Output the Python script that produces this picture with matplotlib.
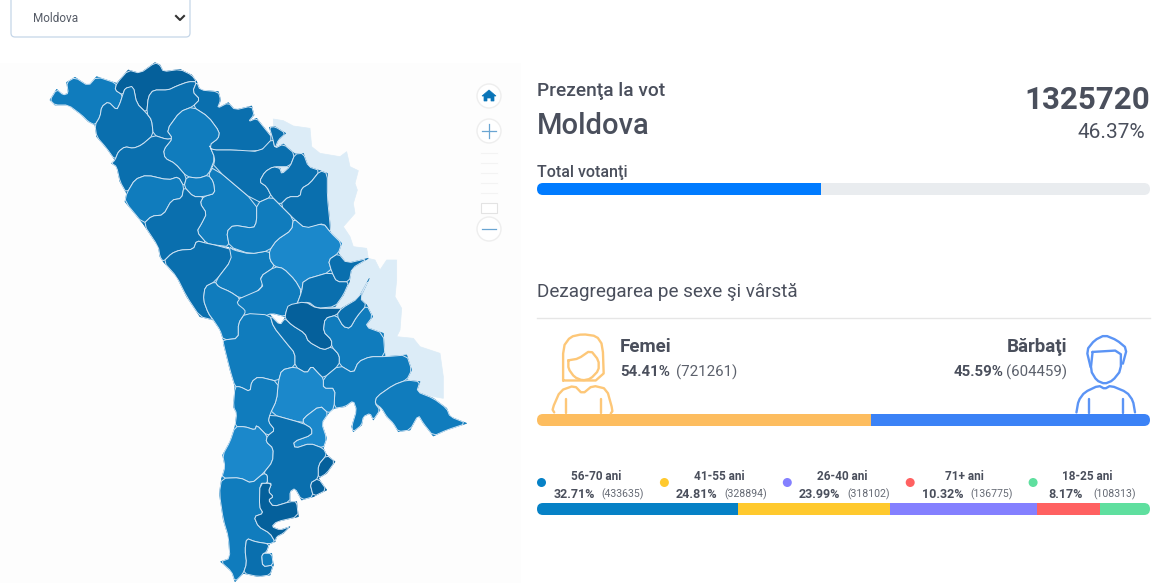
import matplotlib
matplotlib.use("Agg")
import matplotlib.pyplot as plt
import numpy as np
from matplotlib.patches import Circle, FancyBboxPatch, Polygon, Rectangle

plt.rcParams["font.family"] = ["Roboto", "Noto Sans", "DejaVu Sans"]

# Headline numbers
TOTAL_VOTES = "1325720"
TURNOUT_PCT = 46.37

# Sex split
sex_labels = ["Femei", "Bărbaţi"]
sex_pct = [54.41, 45.59]
sex_counts = [721261, 604459]
sex_colors = ["#fdbd5f", "#3b82f6"]

# Age groups
age_labels = ["56-70 ani", "41-55 ani", "26-40 ani", "71+ ani", "18-25 ani"]
age_pct = [32.71, 24.81, 23.99, 10.32, 8.17]
age_counts = [433635, 328894, 318102, 136775, 108313]
age_colors = ["#0681c6", "#ffc92e", "#8480ff", "#ff6161", "#5fdf9f"]

# Map shades
DARK = "#05609b"
MID = "#0a6fae"
LIGHT = "#107cbd"
PALE = "#1b88cb"
TRANS = "#dcecf7"

# Map outlines. Each block has its own crop origin.
NORTH = [
    (LIGHT, [(150,150),(170,118),(190,135),(205,130),(200,97),(225,82),(265,108),(290,80),(350,100),(345,120),(368,135),(360,160),(350,180),(325,155),(305,170),(300,200),(285,225),(265,215),(245,195),(205,165),(165,165)]),
    (DARK, [(350,100),(385,60),(420,70),(465,38),(480,45),(490,65),(540,58),(575,75),(590,95),(565,95),(530,108),(505,120),(460,120),(445,140),(440,190),(410,160),(400,110),(375,115),(368,135),(345,120)]),
    (MID, [(368,135),(375,115),(400,108),(410,160),(440,190),(455,210),(460,255),(425,285),(400,295),(375,290),(355,305),(345,330),(320,295),(290,260),(285,225),(300,200),(305,170),(325,155),(350,180),(360,160)]),
    (MID, [(440,190),(445,140),(460,120),(505,120),(530,108),(565,95),(590,95),(578,125),(600,148),(578,170),(540,185),(500,240),(518,265),(500,268),(460,255),(455,210)]),
    (MID, [(590,95),(600,120),(655,125),(662,150),(652,175),(685,158),(705,180),(755,168),(762,195),(745,215),(770,205),(790,230),(818,265),(790,300),(735,305),(705,300),(635,300),(628,285),(655,265),(658,245),(625,200),(578,170),(600,148),(578,125)]),
    (LIGHT, [(578,170),(625,200),(658,245),(655,265),(628,285),(645,325),(625,375),(595,385),(560,380),(525,340),(495,325),(490,300),(518,265),(500,240),(540,185)]),
    (MID, [(460,255),(500,268),(518,265),(490,300),(495,325),(525,340),(560,380),(552,410),(535,380),(505,390),(440,375),(405,388),(380,430),(360,395),(350,350),(335,340),(345,330),(355,305),(375,290),(400,295),(425,285)]),
    (LIGHT, [(405,388),(440,375),(505,390),(535,380),(552,410),(545,445),(515,450),(490,495),(455,498),(430,522),(375,455),(380,430)]),
    (LIGHT, [(625,375),(640,350),(770,460),(770,515),(760,535),(700,525),(680,545),(688,590),(645,585),(620,580),(590,545),(605,520),(620,490),(600,460),(610,440),(645,430),(640,395)]),
    (LIGHT, [(552,410),(560,380),(595,385),(625,375),(640,395),(645,430),(610,440),(580,440)]),
    (MID, [(552,410),(580,440),(610,440),(600,460),(620,490),(605,520),(590,545),(620,580),(590,572),(580,598),(540,600),(515,610),(490,635),(480,620),(475,590),(430,522),(455,498),(490,495),(515,450),(545,445)]),
    (MID, [(490,635),(515,610),(540,600),(580,598),(590,572),(620,580),(645,585),(700,600),(695,630),(645,695),(615,710),(610,750),(625,790),(640,810),(600,800),(560,740),(530,680)]),
    (LIGHT, [(688,590),(700,600),(750,612),(808,602),(810,630),(825,650),(780,680),(790,705),(760,735),(720,745),(690,725),(655,710),(645,695),(695,630)]),
]
EAST = [
    (TRANS, [(100,207),(130,212),(160,228),(210,235),(215,290),(240,310),(300,320),(320,305),(330,350),(355,362),(345,400),(352,420),(340,460),(345,490),(310,530),(330,560),(340,590),(380,595),(385,625),(405,630),(420,660),(440,630),(470,630),(470,690),(465,740),(485,775),(480,840),(470,860),(520,865),(540,890),(600,910),(610,980),(610,1045),(555,1035),(360,900),(280,800),(100,300)]),
    (MID, [(-85,300),(-15,300),(60,305),(98,265),(105,295),(130,282),(165,312),(150,350),(100,350),(75,365),(58,395),(80,410),(95,440),(50,460),(-80,350),(-75,325),(-92,285)]),
    (MID, [(98,265),(88,232),(105,230),(137,250),(115,270),(105,295)]),
    (MID, [(75,365),(100,350),(120,355),(125,372),(150,350),(165,312),(190,310),(205,350),(240,362),(210,400),(185,415),(180,440),(145,440),(120,465),(95,440),(80,410),(58,395)]),
    (MID, [(240,362),(262,370),(262,440),(270,520),(272,548),(250,520),(220,530),(195,535),(160,505),(120,465),(145,440),(180,440),(185,415),(210,400)]),
    (PALE, [(160,505),(195,535),(250,520),(272,548),(305,580),(295,610),(265,630),(275,665),(190,690),(185,725),(165,690),(130,655),(105,650),(90,630),(88,602),(110,570),(155,540)]),
    (LIGHT, [(50,460),(95,440),(120,465),(160,505),(155,540),(110,570),(88,602),(30,612),(-32,590),(-40,545),(-20,525),(40,535),(50,515)]),
    (LIGHT, [(105,650),(130,655),(165,690),(185,725),(170,765),(140,780),(135,800),(95,790),(70,800),(0,795),(-10,750),(0,745),(70,715),(60,680)]),
    (MID, [(190,690),(275,665),(290,695),(328,695),(310,735),(285,770),(230,775),(205,755),(170,765),(185,725)]),
    (MID, [(265,630),(295,610),(320,640),(385,625),(335,655),(328,695),(290,695),(275,665)]),
]
SOUTH = [
    (LIGHT, [(75,-70),(105,-85),(115,-70),(150,-55),(180,-35),(170,-20),(195,0),(195,10),(175,40),(175,85),(130,90),(120,60),(100,30),(85,10),(70,-30)]),
    (LIGHT, [(195,10),(270,15),(280,50),(320,100),(345,130),(345,170),(305,180),(295,215),(235,200),(215,215),(210,245),(180,230),(165,230),(150,180),(130,100),(130,90),(175,85),(175,40)]),
    (MID, [(270,15),(300,45),(315,25),(335,45),(375,70),(385,95),(430,120),(455,110),(478,135),(478,165),(430,205),(415,190),(395,168),(380,190),(345,170),(345,130),(320,100),(280,50)]),
    (DARK, [(315,25),(318,5),(325,-15),(375,-25),(410,-5),(465,-5),(485,-5),(470,15),(435,25),(430,65),(455,90),(455,110),(430,120),(385,95),(375,70),(335,45)]),
    (LIGHT, [(430,65),(435,25),(470,15),(490,50),(510,55),(530,20),(560,-15),(578,20),(555,50),(610,70),(615,140),(570,140),(535,155),(520,190),(478,165),(478,135),(455,110),(455,90)]),
    (MID, [(470,15),(485,-5),(535,-35),(568,-95),(540,-35),(560,-15),(530,20),(510,55),(490,50)]),
    (LIGHT, [(430,205),(478,165),(520,190),(535,155),(570,140),(615,140),(680,135),(695,180),(680,210),(640,225),(590,260),(585,280),(600,300),(580,330),(570,310),(550,320),(545,345),(520,365),(515,350),(530,300),(520,272),(495,290),(462,295),(465,235),(430,235)]),
    (LIGHT, [(585,280),(590,260),(640,225),(680,210),(720,215),(710,245),(760,265),(800,295),(810,320),(860,340),(800,360),(760,378),(730,340),(715,315),(690,360),(655,365),(640,340),(620,320),(605,295)]),
    (PALE, [(295,215),(305,180),(345,170),(380,190),(395,168),(415,190),(430,205),(430,235),(465,235),(462,295),(445,310),(420,287),(370,325),(370,340),(270,312),(290,270)]),
    (PALE, [(370,325),(420,287),(445,310),(425,340),(440,385),(430,415),(390,400),(345,415),(340,395),(395,375),(395,355),(370,340)]),
    (LIGHT, [(165,230),(180,230),(210,245),(215,215),(235,200),(295,215),(290,270),(270,312),(265,335),(285,360),(262,378),(230,345),(225,360),(195,350),(165,350),(170,310),(160,290)]),
    (PALE, [(165,350),(195,350),(225,360),(230,345),(262,378),(258,395),(280,415),(278,455),(250,490),(215,520),(180,503),(125,505),(135,470),(128,435),(150,395)]),
    (MID, [(270,312),(370,340),(395,355),(395,375),(340,395),(345,415),(390,400),(430,415),(440,435),(415,465),(415,505),(390,520),(400,560),(365,570),(345,535),(330,545),(330,575),(280,590),(265,570),(280,560),(265,545),(275,520),(262,520),(262,495),(250,490),(278,455),(280,415),(258,395),(262,378),(285,360),(265,335)]),
    (DARK, [(440,435),(465,455),(440,490),(415,505),(415,465)]),
    (DARK, [(390,520),(415,505),(440,540),(400,560)]),
    (LIGHT, [(125,505),(180,503),(215,520),(250,490),(262,495),(262,520),(240,520),(238,590),(250,610),(222,620),(235,650),(270,670),(285,695),(268,702),(225,695),(200,685),(195,720),(200,760),(190,790),(165,815),(155,785),(122,755),(150,745),(145,680),(130,630),(118,550)]),
    (DARK, [(240,520),(275,520),(265,545),(280,560),(265,570),(280,590),(330,575),(350,575),(355,620),(290,635),(275,650),(300,660),(330,650),(310,670),(290,680),(285,695),(270,670),(235,650),(222,620),(250,610),(238,590)]),
    (MID, [(200,685),(225,695),(268,702),(260,725),(245,735),(248,770),(280,765),(270,795),(235,800),(190,790),(200,760),(195,720)]),
    (LIGHT, [(245,730),(275,730),(280,765),(248,770)]),
]

# Icon outlines, in the same crop space as the lower panel zoom
WOMAN = [
    [(82,180),(82,80),(100,50),(130,42),(165,48),(180,75),(183,180),(82,180)],
    [(95,120),(120,115),(150,90),(170,120),(170,150),(150,175),(130,180),(110,170),(95,145),(95,120)],
    [(60,275),(55,265),(75,210),(110,195),(130,220),(155,195),(190,205),(205,270),(200,278)],
    [(88,235),(88,278)],
    [(175,235),(175,278)],
]
MAN = [
    [(1388,140),(1378,90),(1398,60),(1423,45),(1453,60),(1478,85),(1468,130)],
    [(1393,95),(1463,90),(1463,150),(1443,180),(1423,190),(1403,180),(1388,150),(1393,95)],
    [(1353,275),(1358,240),(1373,215),(1408,195),(1423,205),(1438,195),(1478,215),(1493,240),(1498,275)],
    [(1383,235),(1383,278)],
    [(1468,235),(1468,278)],
]

TEXT = "#4a4f5c"
BAR_X = 537
BAR_W = 613


def smooth(pts, closed=True, cut=0.2):
    # one pass of corner cutting so the traced outlines look less faceted
    pts = np.asarray(pts, dtype=float)
    if closed:
        nxt = np.roll(pts, -1, axis=0)
        return np.column_stack([(1 - cut) * pts + cut * nxt, cut * pts + (1 - cut) * nxt]).reshape(-1, 2)
    a, b = pts[:-1], pts[1:]
    mid = np.column_stack([(1 - cut) * a + cut * b, cut * a + (1 - cut) * b]).reshape(-1, 2)
    return np.vstack([pts[0], mid, pts[-1]])


def draw_regions(regions, x0, y0):
    for color, pts in regions:
        xy = smooth(pts) / 3 + [x0, y0]
        ax.add_patch(Polygon(xy, closed=True, fc=color, ec="#cfe3f3", lw=0.7, joinstyle="round"))


def draw_underlay(regions, x0, y0):
    # raw outlines underneath, fills the slivers left by the smoothing
    for color, pts in regions:
        ax.add_patch(Polygon(np.asarray(pts, float) / 3 + [x0, y0], closed=True, fc=color, ec=color, lw=0.5))


def stacked_bar(y, height, pct, colors):
    clip = FancyBboxPatch((BAR_X + 6, y + 6), BAR_W - 12, height - 12,
                          boxstyle="round,pad=6", transform=ax.transData, fc="none", ec="none")
    ax.add_patch(clip)
    lefts = BAR_X + np.cumsum([0] + list(pct[:-1])) / 100 * BAR_W
    widths = np.array(pct) / 100 * BAR_W
    bars = ax.barh([y + height / 2] * len(pct), widths, height=height, left=lefts, color=colors)
    for b in bars:
        b.set_clip_path(clip)


fig = plt.figure(figsize=(11.57, 5.83), dpi=100)
ax = fig.add_axes([0, 0, 1, 1])
ax.set_xlim(0, 1157)
ax.set_ylim(583, 0)
ax.axis("off")

# map panel
ax.add_patch(Rectangle((0, 63), 521, 520, fc="#fdfdfd", ec="none"))
draw_underlay(EAST[:1], 240, 50)
draw_underlay(NORTH, 0, 50)
draw_underlay(EAST[1:], 240, 50)
draw_underlay(SOUTH, 180, 310)
draw_regions(NORTH, 0, 50)
draw_regions(EAST[1:], 240, 50)
draw_regions(SOUTH, 180, 310)

# dropdown
ax.add_patch(FancyBboxPatch((15, -8), 171, 41, boxstyle="round,pad=4", fc="white", ec="#c5d6e8", lw=0.9))
ax.text(33, 19, "Moldova", fontsize=8.5, color="#555b66", va="center")
ax.plot([176, 180, 184], [16, 20, 16], color="#333333", lw=1.5)

# map controls
for cy in [96, 131, 229]:
    ax.add_patch(Circle((489, cy), 12, fc="white", ec="#eeeeee", lw=1))
ax.add_patch(Polygon([(482, 96), (489, 90), (496, 96), (494, 96), (494, 101), (491, 101), (491, 98),
                      (487, 98), (487, 101), (484, 101), (484, 96)], fc="#0a75b8", ec="#0a75b8", lw=0.5))
ax.plot([482, 496], [131, 131], color="#6aa5d2", lw=0.9)
ax.plot([489, 489], [124, 138], color="#6aa5d2", lw=0.9)
ax.plot([482, 496], [229, 229], color="#6aa5d2", lw=0.9)
for ly in [153, 163, 173, 183, 193]:
    ax.plot([481, 497], [ly, ly], color="#f3f3f3", lw=0.8)
ax.add_patch(Rectangle((481, 203), 16, 10, fc="white", ec="#e3e3e3", lw=0.8))

# headline
ax.text(537, 91, "Prezenţa la vot", fontsize=13.8, weight="medium", color=TEXT, va="center")
ax.text(537, 126, "Moldova", fontsize=21, weight="medium", color=TEXT, va="center")
ax.text(1150, 100, TOTAL_VOTES, fontsize=22.5, weight="bold", color=TEXT, va="center", ha="right")
ax.text(1145, 132, f"{TURNOUT_PCT}%", fontsize=15, color=TEXT, va="center", ha="right")
ax.text(537, 172, "Total votanţi", fontsize=11.5, weight="medium", color=TEXT, va="center")
stacked_bar(183, 12, [TURNOUT_PCT, 100 - TURNOUT_PCT], ["#007bff", "#e9ecef"])

ax.text(537, 292, "Dezagregarea pe sexe şi vârstă", fontsize=13.55, color=TEXT, va="center")
ax.plot([537, 1150], [317.5, 317.5], color="#e6e6e6", lw=1)

# sex split
ax.text(620, 347, sex_labels[0], fontsize=13.5, weight="bold", color=TEXT, va="center")
ax.text(620, 372, f"{sex_pct[0]}%", fontsize=10.8, weight="bold", color=TEXT, va="center")
ax.text(676, 372, f"({sex_counts[0]})", fontsize=10.8, color="#5c616c", va="center")
ax.text(1067, 347, sex_labels[1], fontsize=13.5, weight="bold", color=TEXT, va="center", ha="right")
ax.text(1003, 372, f"{sex_pct[1]}%", fontsize=10.8, weight="bold", color=TEXT, va="center", ha="right")
ax.text(1067, 372, f"({sex_counts[1]})", fontsize=10.8, color="#5c616c", va="center", ha="right")
for shapes, color in [(WOMAN, "#fdc778"), (MAN, "#5b94f5")]:
    for line in shapes:
        xy = smooth(line, closed=False) if len(line) > 2 else np.array(line, dtype=float)
        ax.plot(530 + xy[:, 0] / 2.476, 320 + xy[:, 1] / 2.976, color=color, lw=1.7,
                solid_joinstyle="round", solid_capstyle="round")
stacked_bar(414, 12, sex_pct, sex_colors)

# age split
for i, label in enumerate(age_labels):
    dx = 122.9 * i
    ax.add_patch(Circle((541.5 + dx, 482.5), 4.5, fc=age_colors[i], ec="none"))
    ax.text(596 + dx, 476, label, fontsize=8.5, weight="bold", color=TEXT, va="center", ha="center")
    ax.text(574 + dx, 494, f"{age_pct[i]}%", fontsize=9, weight="bold", color=TEXT, va="center", ha="center")
    ax.text(623 + dx, 494.5, f"({age_counts[i]})", fontsize=7.6, color="#666b75", va="center", ha="center")
stacked_bar(503, 12, age_pct, age_colors)

fig.savefig("out.png", dpi=100)
